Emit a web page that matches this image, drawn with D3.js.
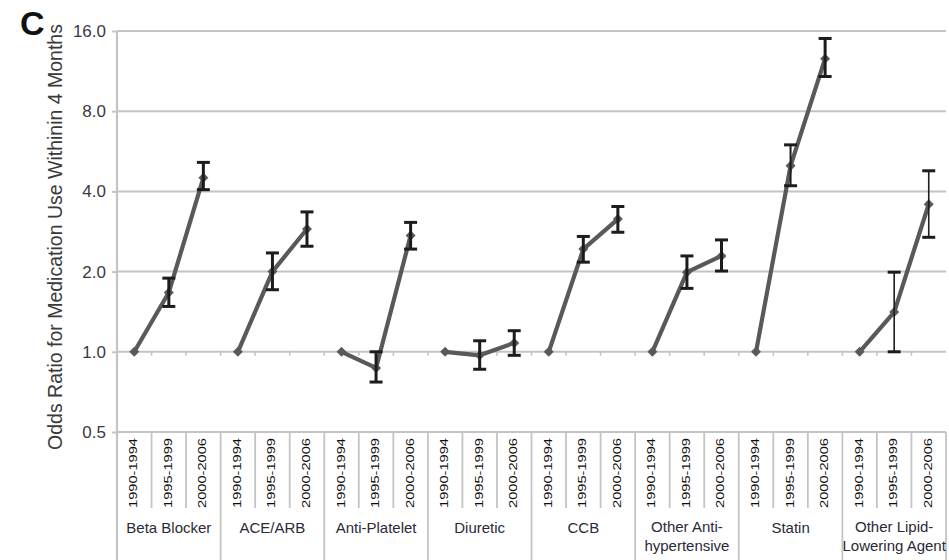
<!DOCTYPE html>
<html>
<head>
<meta charset="utf-8">
<script src="https://cdn.jsdelivr.net/npm/d3@7"></script>
<style>
  html, body { margin: 0; padding: 0; background: #fff; }
  svg { display: block; font-family: "Liberation Sans", Arial, sans-serif; }
</style>
</head>
<body>
<svg id="chart" width="949" height="560"></svg>
<script>
// Medication classes and the three calendar periods compared within each
const categories = ["Beta Blocker", "ACE/ARB", "Anti-Platelet", "Diuretic", "CCB",
  "Other Anti-hypertensive", "Statin", "Other Lipid-Lowering Agent"];
const categoryLines = [["Beta Blocker"], ["ACE/ARB"], ["Anti-Platelet"], ["Diuretic"], ["CCB"],
  ["Other Anti-", "hypertensive"], ["Statin"], ["Other Lipid-", "Lowering Agent"]];
const periods = ["1990-1994", "1995-1999", "2000-2006"];

// Odds ratio (reference period 1990-1994 = 1.0) and 95% confidence limits
const oddsRatio = [
  [1, 1.67, 4.50],
  [1, 2.00, 2.89],
  [1, 0.87, 2.73],
  [1, 0.97, 1.08],
  [1, 2.43, 3.15],
  [1, 1.99, 2.29],
  [1, 4.99, 12.6],
  [1, 1.41, 3.58]
];
const lowerCI = [
  [null, 1.48, 4.06],
  [null, 1.71, 2.49],
  [null, 0.77, 2.43],
  [null, 0.86, 0.97],
  [null, 2.17, 2.81],
  [null, 1.73, 2.01],
  [null, 4.20, 10.8],
  [null, 1.00, 2.69]
];
const upperCI = [
  [null, 1.89, 5.14],
  [null, 2.35, 3.35],
  [null, 1.00, 3.06],
  [null, 1.10, 1.20],
  [null, 2.71, 3.51],
  [null, 2.29, 2.63],
  [null, 5.98, 15.0],
  [null, 1.99, 4.78]
];
const yTicks = [0.5, 1, 2, 4, 8, 16];

const svg = d3.select("#chart");
const plot = { left: 117, right: 946, top: 31, bottom: 432 };
const labelBottom = 560, periodBottom = 508;
const gridColor = "#c4c4c4";

const xGroup = d3.scaleBand().domain(categories).range([plot.left, plot.right]).padding(0);
const xPeriod = d3.scaleBand().domain(periods).range([0, xGroup.bandwidth()]).padding(0);
const y = d3.scaleLog().base(2).domain([0.5, 16]).range([plot.bottom, plot.top]);

// Horizontal gridlines
svg.append("g").selectAll("line").data(yTicks).join("line")
  .attr("x1", plot.left).attr("x2", plot.right)
  .attr("y1", d => y(d)).attr("y2", d => y(d))
  .attr("stroke", gridColor).attr("stroke-width", 2);

// Y axis with its labels
const yAxis = svg.append("g").attr("transform", `translate(${plot.left},0)`)
  .call(d3.axisLeft(y).tickValues(yTicks).tickFormat(d3.format(".1f")).tickSize(5).tickPadding(6));
yAxis.select(".domain").remove();
yAxis.selectAll(".tick line").attr("stroke", gridColor).attr("stroke-width", 2);
yAxis.selectAll(".tick text")
  .attr("fill", "#383846").style("font-size", "17px")
  .style("font-family", "'Liberation Sans', Arial, sans-serif");

// Vertical axis line running through the label area
svg.append("line")
  .attr("x1", plot.left).attr("x2", plot.left)
  .attr("y1", plot.top).attr("y2", labelBottom)
  .attr("stroke", gridColor).attr("stroke-width", 2.2);

// Period boundaries; the first period of each class starts a new class block
const allBounds = [];
categories.forEach(c => periods.forEach((p, i) => {
  if (!(c === categories[0] && i === 0)) allBounds.push({ x: xGroup(c) + xPeriod(p), group: i === 0 });
}));
allBounds.push({ x: plot.right, group: true });

// Tick marks on the 1.0 reference line
svg.append("g").selectAll("line").data(allBounds.filter(b => b.x < plot.right)).join("line")
  .attr("x1", d => d.x).attr("x2", d => d.x)
  .attr("y1", y(1)).attr("y2", y(1) + 4)
  .attr("stroke", gridColor).attr("stroke-width", 1.6);

// Separators of the two-level category axis
svg.append("g").selectAll("line").data(allBounds).join("line")
  .attr("x1", d => d.x).attr("x2", d => d.x)
  .attr("y1", plot.bottom).attr("y2", d => d.group ? labelBottom : periodBottom)
  .attr("stroke", gridColor).attr("stroke-width", 1.8);

// Period labels (rotated)
const periodLabels = svg.append("g");
categories.forEach(c => periods.forEach(p => {
  const cx = xGroup(c) + xPeriod(p) + xPeriod.bandwidth() / 2 - 1;
  periodLabels.append("text")
    .attr("transform", `translate(${cx},${plot.bottom + 6}) rotate(-90)`)
    .attr("text-anchor", "end")
    .attr("dominant-baseline", "central")
    .attr("textLength", 70).attr("lengthAdjust", "spacingAndGlyphs")
    .attr("fill", "#0d0d0d").style("font-size", "11.5px")
    .text(p);
}));

// Category labels
const catLabels = svg.append("g");
categories.forEach((c, i) => {
  const lines = categoryLines[i];
  const cx = xGroup(c) + xGroup.bandwidth() / 2;
  const t = catLabels.append("text")
    .attr("text-anchor", "middle").attr("fill", "#2a2a36")
    .style("font-size", "15px");
  lines.forEach((ln, k) => {
    t.append("tspan").attr("x", cx)
      .attr("y", (lines.length === 1 ? 533 : 532) + k * 19)
      .text(ln);
  });
});

// Series lines, one per medication class
const xPos = (ci, pi) => xGroup(categories[ci]) + xPeriod(periods[pi]) + xPeriod.bandwidth() / 2;
const line = d3.line().x(d => d.x).y(d => y(d.v));
const seriesColor = "#595959";

const groups = categories.map((c, ci) => oddsRatio[ci].map((v, pi) => ({
  x: xPos(ci, pi), v, lo: lowerCI[ci][pi], hi: upperCI[ci][pi], ci, pi
})));

svg.append("g").selectAll("path").data(groups).join("path")
  .attr("d", line).attr("fill", "none")
  .attr("stroke", seriesColor).attr("stroke-width", 4.2).attr("stroke-linejoin", "round");

// Diamond markers
const diamond = d3.symbol().type(d3.symbolSquare).size(50);
svg.append("g").selectAll("path").data(groups.flat()).join("path")
  .attr("transform", d => `translate(${d.x},${y(d.v)}) rotate(45)`)
  .attr("d", diamond).attr("fill", seriesColor);

// Confidence interval error bars
const bars = groups.flat().filter(d => d.lo != null);
const barWidth = d => d.ci === 7 ? 1.6 : (d.ci === 6 && d.pi === 1 ? 2 : 3);
const eb = svg.append("g").attr("stroke", "#1c1c1c");
eb.selectAll("line.v").data(bars).join("line").attr("class", "v")
  .attr("x1", d => d.x).attr("x2", d => d.x)
  .attr("y1", d => y(d.lo)).attr("y2", d => y(d.hi))
  .attr("stroke-width", barWidth);
eb.selectAll("line.cap").data(bars.flatMap(d => [{ x: d.x, v: d.lo }, { x: d.x, v: d.hi }]))
  .join("line").attr("class", "cap")
  .attr("x1", d => d.x - 6.5).attr("x2", d => d.x + 6.5)
  .attr("y1", d => y(d.v)).attr("y2", d => y(d.v))
  .attr("stroke-width", 3);

// Y axis title
svg.append("text")
  .attr("transform", `translate(62,237) rotate(-90)`)
  .attr("text-anchor", "middle")
  .attr("fill", "#3a3a3a").style("font-size", "19.5px")
  .text("Odds Ratio for Medication Use Withinin 4 Months");

// Panel letter
svg.append("text").attr("x", 20).attr("y", 35)
  .attr("fill", "#111").style("font-size", "34px").style("font-weight", "bold")
  .text("C");
</script>
</body>
</html>
